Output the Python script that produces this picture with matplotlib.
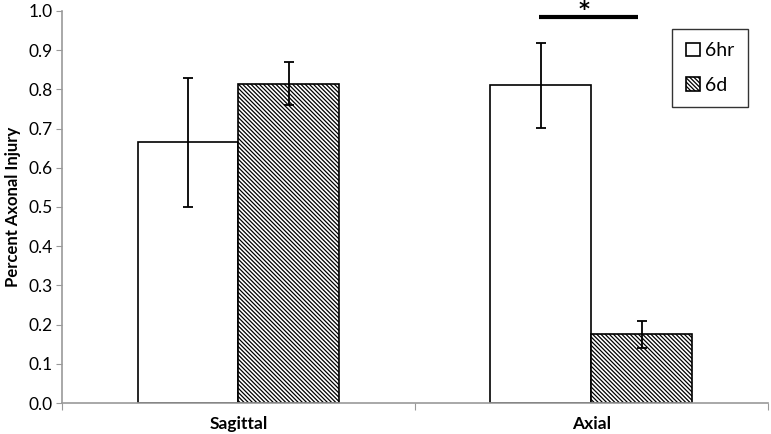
import numpy as np
import matplotlib
matplotlib.use("Agg")
import matplotlib.pyplot as plt

plt.rcParams['font.family'] = ['Lato', 'DejaVu Sans']
plt.rcParams['hatch.linewidth'] = 0.9

categories = ['Sagittal', 'Axial']
series = ['6hr', '6d']
vals_6hr = [0.665, 0.81]
err_6hr = [0.165, 0.108]
vals_6d = [0.815, 0.175]
err_6d = [0.054, 0.035]
yticks = np.arange(0, 1.01, 0.1)

fig = plt.figure(figsize=(7.71, 4.34), dpi=100)
ax = fig.add_axes([0.0804, 0.0714, 0.9156, 0.9033])

x = np.arange(len(categories))
w = 0.286
ekw = dict(elinewidth=1.3, capthick=1.3, ecolor='black')
ax.bar(x - w/2, vals_6hr, w, yerr=err_6hr, capsize=3.5, color='white',
       edgecolor='black', linewidth=1.2, label=series[0], error_kw=ekw)
ax.bar(x + w/2, vals_6d, w, yerr=err_6d, capsize=3.5, color='white',
       edgecolor='black', linewidth=1.2, hatch='\\\\\\\\\\\\\\\\', label=series[1],
       error_kw=ekw)

# significance marker
ax.plot([1 - w/2 - 0.005, 1 + w/2 - 0.01], [0.985, 0.985], color='black',
        lw=3, clip_on=False, solid_capstyle='butt')
ax.text(0.98, 1.002, '*', ha='center', va='center', fontsize=15,
        fontweight='bold', family='DejaVu Sans', clip_on=False)

ax.set_xlim(-0.5, 1.5)
ax.set_ylim(0, 1.0)
ax.set_yticks(yticks)
ax.set_yticklabels([f'{t:.1f}' for t in yticks], fontsize=12.5)
ax.set_xticks([-0.5, 0.5, 1.5])
ax.set_xticklabels([])
ax.set_xticks(x, minor=True)
ax.set_xticklabels(categories, minor=True, fontsize=12.5, fontweight='bold')
ax.tick_params(axis='x', which='minor', length=0, pad=9)
ax.tick_params(axis='x', which='major', length=5, color='#999999', direction='out')
ax.tick_params(axis='y', length=4, color='#999999', direction='out', pad=3)
ax.set_ylabel('Percent Axonal Injury', fontsize=12, fontweight='bold', labelpad=5)

for s in ['top', 'right']:
    ax.spines[s].set_visible(False)
for s in ['left', 'bottom']:
    ax.spines[s].set_color('#999999')
    ax.spines[s].set_linewidth(1.2)

leg = ax.legend(loc='upper right', bbox_to_anchor=(0.986, 0.98), fontsize=14,
                frameon=True, fancybox=False, edgecolor='black',
                handlelength=0.7, handleheight=0.7, handletextpad=0.3,
                labelspacing=0.9, borderpad=0.7)
leg.get_frame().set_linewidth(1.0)

fig.savefig('out.png', dpi=100)
